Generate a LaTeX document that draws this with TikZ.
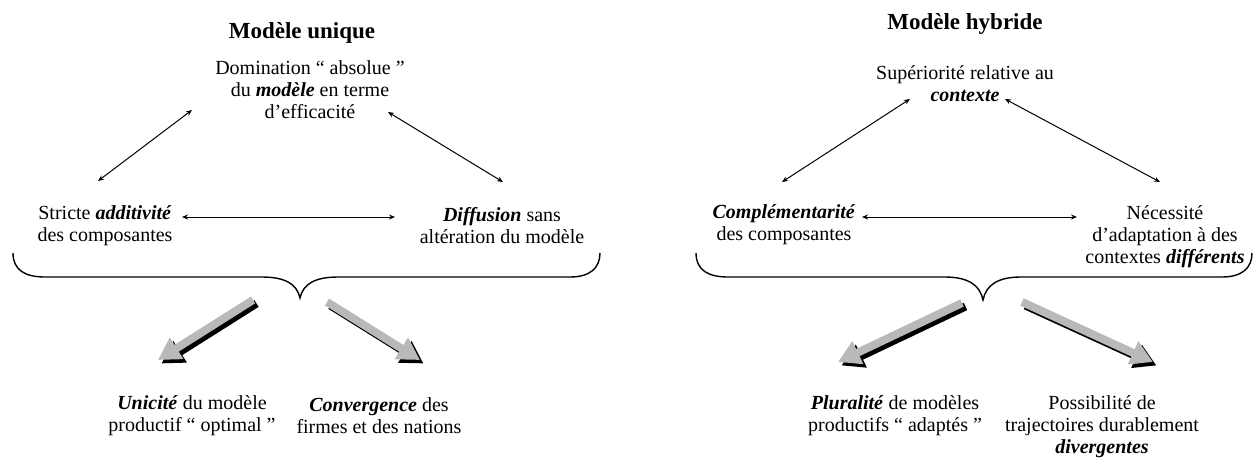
\documentclass[tikz,border=0pt]{standalone}
\usepackage{fontspec}
\setmainfont{Liberation Serif}
\usetikzlibrary{arrows.meta}
\definecolor{arrowgray}{RGB}{185,185,185}
\tikzset{
  txt/.style={align=center, inner sep=0pt, font=\fontsize{20}{22}\selectfont},
  ttl/.style={inner sep=0pt, font=\fontsize{23}{25}\selectfont\bfseries},
  thin/.style={line width=1pt, {Stealth[length=6pt,width=5pt]}-{Stealth[length=6pt,width=5pt]}},
  brace/.style={line width=1.4pt},
  fat/.style={line width=8pt, -{Triangle[length=22pt,width=24pt]}},
  fatgray/.style={fat, draw=arrowgray},
  fatshadow/.style={fat, draw=black, transform canvas={shift={(3.5pt,-3.5pt)}}}
}
\newcommand{\bi}[1]{\textbf{\textit{#1}}}
\begin{document}
\begin{tikzpicture}[x=1pt,y=-1pt]
\useasboundingbox (0,0) rectangle (1254,459);
% ---------- left half ----------
\node[ttl] (tL) at (302,33) {Modèle unique};
\node[txt] (nA) at (310,90) {Domination “ absolue ”\\du \bi{modèle} en terme\\d’efficacité};
\node[txt] (nB) at (105,226) {Stricte \bi{additivité}\\des composantes};
\node[txt] (nC) at (502,226) {\bi{Diffusion} sans\\altération du modèle};
\node[txt] (nD) at (192,416) {\bi{Unicité} du modèle\\productif “ optimal ”};
\node[txt] (nE) at (379,416) {\bi{Convergence} des\\firmes et des nations};

\coordinate (a1) at (98,181);  \coordinate (a2) at (192,110);
\coordinate (a3) at (388,112); \coordinate (a4) at (503,182);
\coordinate (a5) at (182,217); \coordinate (a6) at (395,217);
\draw[thin] (a1) -- (a2);
\draw[thin] (a3) -- (a4);
\draw[thin] (a5) -- (a6);

\draw[brace] (13,253) .. controls (13,270) and (25,277) .. (45,277) -- (262,277)
  .. controls (285,277) and (297,284) .. (300,298)
  .. controls (303,284) and (315,277) .. (338,277) -- (570,277)
  .. controls (590,277) and (600,268) .. (600,253);

\coordinate (f1) at (253,300); \coordinate (f2) at (158,360);
\coordinate (f3) at (327,302); \coordinate (f4) at (420,360);
\draw[fatshadow] (f1) -- (f2);
\draw[fatgray] (f1) -- (f2);
\draw[fatshadow] (f3) -- (f4);
\draw[fatgray] (f3) -- (f4);

% ---------- right half ----------
\node[ttl] (tR) at (965,24) {Modèle hybride};
\node[txt] (nF) at (965,84) {Supériorité relative au\\\bi{contexte}};
\node[txt] (nG) at (784,225) {\bi{Complémentarité}\\des composantes};
\node[txt] (nH) at (1165,237) {Nécessité\\d’adaptation à des\\contextes \bi{différents}};
\node[txt] (nI) at (895,416) {\bi{Pluralité} de modèles\\productifs “ adaptés ”};
\node[txt] (nJ) at (1102,427) {Possibilité de\\trajectoires durablement\\\bi{divergentes}};

\coordinate (b1) at (782,182);  \coordinate (b2) at (910,99);
\coordinate (b3) at (1005,99);  \coordinate (b4) at (1160,182);
\coordinate (b5) at (862,217);  \coordinate (b6) at (1077,217);
\draw[thin] (b1) -- (b2);
\draw[thin] (b3) -- (b4);
\draw[thin] (b5) -- (b6);

\draw[brace] (696,253) .. controls (696,270) and (708,277) .. (728,277) -- (945,277)
  .. controls (968,277) and (980,285) .. (983,300)
  .. controls (986,285) and (998,277) .. (1021,277) -- (1222,277)
  .. controls (1242,277) and (1252,268) .. (1252,253);

\coordinate (g1) at (962,303); \coordinate (g2) at (838,362);
\coordinate (g3) at (1022,302); \coordinate (g4) at (1153,362);
\draw[fatshadow] (g1) -- (g2);
\draw[fatgray] (g1) -- (g2);
\draw[fatshadow] (g3) -- (g4);
\draw[fatgray] (g3) -- (g4);
\end{tikzpicture}
\end{document}
